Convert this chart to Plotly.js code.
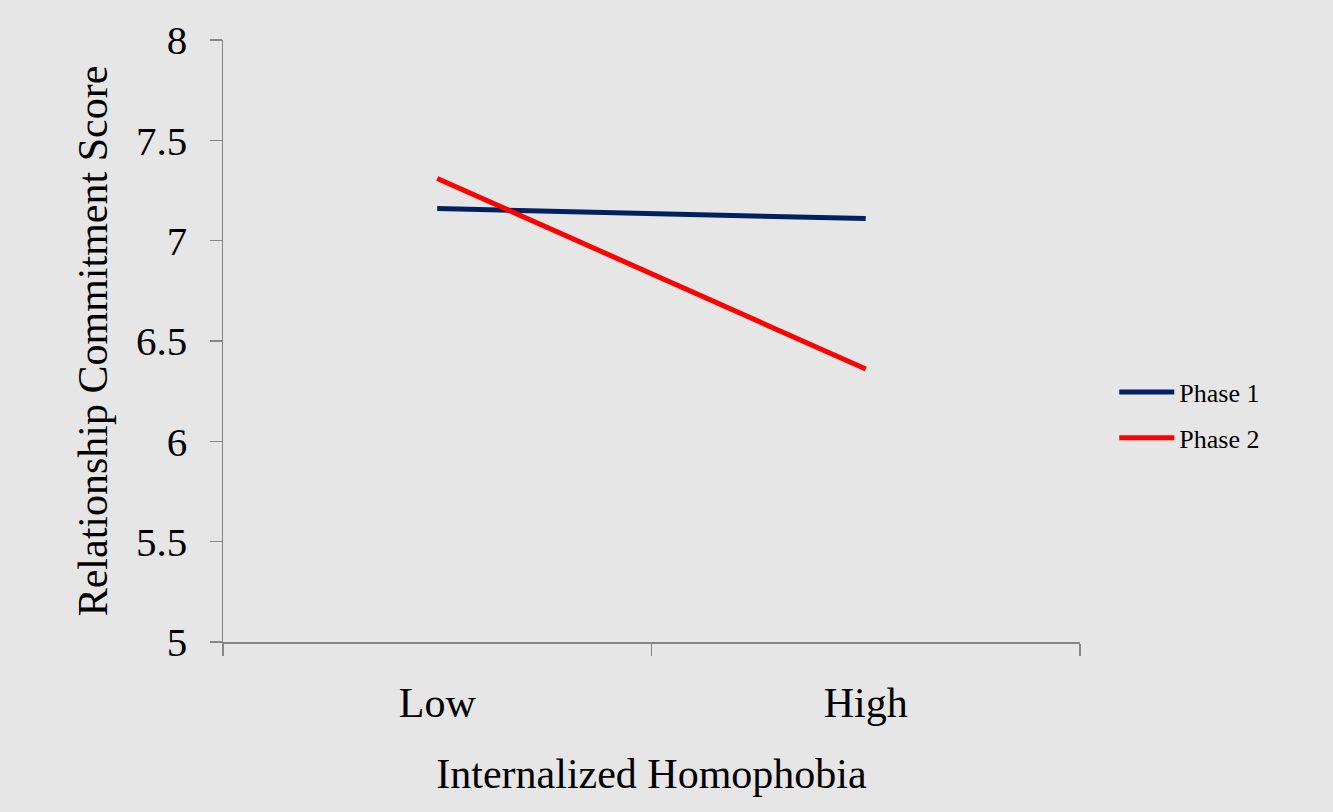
<!DOCTYPE html>
<html>
<head>
<meta charset="utf-8">
<script src="https://cdn.plot.ly/plotly-3.0.1.min.js"></script>
<style>html,body{margin:0;padding:0;background:#e6e6e6;}#chart{width:1333px;height:812px;}</style>
</head>
<body>
<div id="chart"></div>
<script>
const categories = ["Low", "High"];
const phase1 = [7.16, 7.11];
const phase2 = [7.31, 6.36];
const seriesNames = ["Phase 1", "Phase 2"];
const yTicks = [5, 5.5, 6, 6.5, 7, 7.5, 8];
const yTickLabels = ["5", "5.5", "6", "6.5", "7", "7.5", "8"];

const serif = 'Liberation Serif, Times New Roman, serif';
const axisColor = '#868686';

const traces = [
  {x: categories, y: phase1, name: seriesNames[0], type: 'scatter', mode: 'lines',
   legendgroup: 'g1', line: {color: '#002060', width: 5}},
  {x: categories, y: phase2, name: seriesNames[1], type: 'scatter', mode: 'lines',
   legendgroup: 'g2', line: {color: '#ff0000', width: 5}}
];

const layout = {
  width: 1333, height: 812,
  paper_bgcolor: '#e6e6e6', plot_bgcolor: '#e6e6e6',
  margin: {l: 223, r: 253, t: 40, b: 170},
  font: {family: serif, color: '#000'},
  showlegend: true,
  legend: {x: 1.04, y: 0.377, xanchor: 'left', yanchor: 'middle',
           font: {family: serif, size: 26, color: '#000'}, bgcolor: 'rgba(0,0,0,0)',
           itemwidth: 55, traceorder: 'grouped', tracegroupgap: 9},
  xaxis: {
    type: 'category', tickson: 'boundaries', range: [-0.5, 1.5],
    showline: true, linecolor: axisColor, linewidth: 1.5,
    ticks: 'outside', ticklen: 12, tickcolor: axisColor, tickwidth: 1.5,
    showgrid: false, zeroline: false,
    tickfont: {family: serif, size: 42, color: '#000'}, ticklabelstandoff: 23,
    title: {text: 'Internalized Homophobia', font: {family: serif, size: 42, color: '#000'}, standoff: 33},
    automargin: false, fixedrange: true
  },
  yaxis: {
    range: [5, 8], tickvals: yTicks, ticktext: yTickLabels,
    showline: true, linecolor: axisColor, linewidth: 1.5,
    ticks: 'outside', ticklen: 12, tickcolor: axisColor, tickwidth: 1.5,
    showgrid: false, zeroline: false,
    tickfont: {family: serif, size: 41, color: '#000'}, ticklabelstandoff: 14,
    title: {text: 'Relationship Commitment Score', font: {family: serif, size: 42, color: '#000'}, standoff: 15},
    automargin: false, fixedrange: true
  }
};

Plotly.newPlot('chart', traces, layout, {displayModeBar: false, staticPlot: true});
</script>
</body>
</html>
